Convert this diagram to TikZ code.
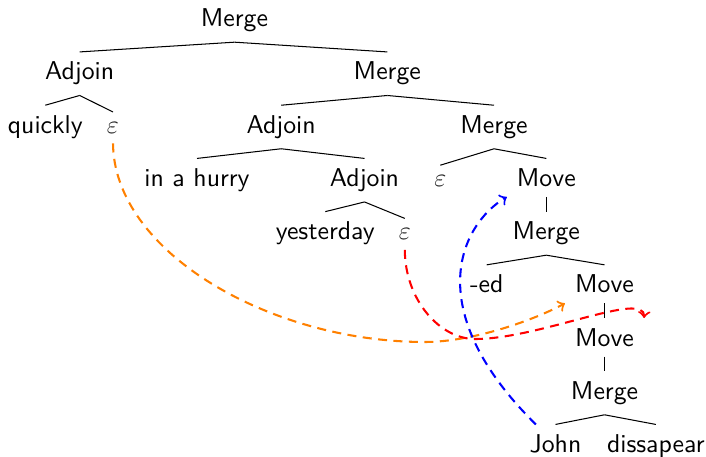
\documentclass[tikz,border=0pt]{standalone}
\begin{document}
\begin{tikzpicture}[x=0.388pt,y=-0.388pt,
  lbl/.style={font=\sffamily, anchor=base, inner sep=3.75pt},
  eps/.style={lbl, text=black!85},
  br/.style={line width=0.4pt},
  mv/.style={->, dash pattern=on 3.5pt off 2.5pt, line width=0.8pt}]
\useasboundingbox (0,0) rectangle (706,457);
\node[lbl] (r) at (234.5,26.7) {Merge};
\node[lbl] (a1) at (79.7,80) {Adjoin};
\node[lbl] (m1) at (387.3,80) {Merge};
\node[lbl] (q) at (45.3,133.3) {quickly};
\node[eps] (e1) at (113,133.3) {$\varepsilon$};
\node[lbl] (a2) at (281.2,133.3) {Adjoin};
\node[lbl] (m2) at (494,133.3) {Merge};
\node[lbl] (h) at (197,186.5) {in a hurry};
\node[lbl] (a3) at (364.5,186.5) {Adjoin};
\node[eps] (e2) at (440.3,186.5) {$\varepsilon$};
\node[lbl] (mv1) at (546.3,186.5) {Move};
\node[lbl] (y) at (325.3,239.7) {yesterday};
\node[eps] (e3) at (404.8,239.7) {$\varepsilon$};
\node[lbl] (m3) at (546.3,239.7) {Merge};
\node[lbl] (ed) at (486.7,292.9) {-ed};
\node[lbl] (mv2) at (604.5,292.9) {Move};
\node[lbl] (mv3) at (604.5,346.1) {Move};
\node[lbl] (m4) at (604.5,399.3) {Merge};
\node[lbl] (j) at (555.5,452.5) {John};
\node[lbl] (d) at (655.8,452.5) {dissapear};
\draw[br] (r.south) -- (a1.north);
\draw[br] (r.south) -- (m1.north);
\draw[br] (a1.south) -- (q.north);
\draw[br] (a1.south) -- (e1.north);
\draw[br] (m1.south) -- (a2.north);
\draw[br] (m1.south) -- (m2.north);
\draw[br] (a2.south) -- (h.north);
\draw[br] (a2.south) -- (a3.north);
\draw[br] (m2.south) -- (e2.north);
\draw[br] (m2.south) -- (mv1.north);
\draw[br] (a3.south) -- (y.north);
\draw[br] (a3.south) -- (e3.north);
\draw[br] (mv1.south) -- (m3.north);
\draw[br] (m3.south) -- (ed.north);
\draw[br] (m3.south) -- (mv2.north);
\draw[br] (mv2.south) -- (mv3.north);
\draw[br] (mv3.south) -- (m4.north);
\draw[br] (m4.south) -- (j.north);
\draw[br] (m4.south) -- (d.north);
\coordinate (ob) at (425,342);
\coordinate (rb) at (475,339);
\draw[mv, orange] (e1.south) .. controls (114,252) and (270,342) .. (ob) .. controls (470,342) and (530,322) .. (mv2.south west);
\draw[mv, red] (e3.south) .. controls (405,300) and (440,339) .. (rb) .. controls (540,339) and (645,290) .. (mv3.north east);
\draw[mv, blue] (j) .. controls (420,310) and (460,225) .. (mv1.south west);
\end{tikzpicture}
\end{document}
